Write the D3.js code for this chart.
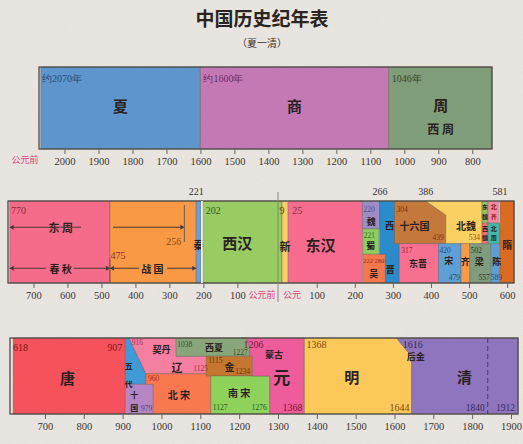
<!DOCTYPE html>
<html><head><meta charset="utf-8">
<script src="https://cdn.jsdelivr.net/npm/d3@7"></script>
<style>body{margin:0;background:#ebe8e3}svg{display:block}</style>
</head><body><svg id="c" width="523" height="444"></svg>
<script>
// ---------- data ----------
const titleText = "中国历史纪年表";
const subtitleText = "（夏一清）";
// [name, start year, end year]  (BC years negative)
const row1Dynasties = [["夏",-2070,-1600],["商",-1600,-1046],["周",-1046,-742]];
const row1Ticks = [-2000,-1900,-1800,-1700,-1600,-1500,-1400,-1300,-1200,-1100,-1000,-900,-800];
const row2Dynasties = [["春秋",-770,-475],["战国",-475,-221],["秦",-221,-207],["西汉",-202,9],["新",9,25],
  ["东汉",25,220],["魏",220,266],["蜀",221,263],["西晋",265,317],["吴",222,280],["十六国",304,439],
  ["北魏",386,534],["东晋",317,420],["宋",420,479],["齐",479,502],["梁",502,557],["陈",557,589],
  ["东魏",534,550],["西魏",535,557],["北齐",550,577],["北周",557,581],["隋",581,618]];
const row2Ticks = [-700,-600,-500,-400,-300,-200,-100,100,200,300,400,500,600];
const row3Dynasties = [["唐",618,907],["五代",907,960],["十国",907,979],["辽",916,1125],["北宋",960,1127],
  ["西夏",1038,1227],["金",1115,1234],["南宋",1127,1279],["元",1206,1368],["明",1368,1644],["清",1616,1912]];
const row3Ticks = [700,800,900,1000,1100,1200,1300,1400,1500,1600,1700,1800,1900];

// ---------- layout ----------
const svg = d3.select("#c");
const defs = svg.append("defs");
const f = defs.append("filter").attr("id","paper");
f.append("feTurbulence").attr("type","fractalNoise").attr("baseFrequency",0.9).attr("numOctaves",2).attr("seed",3);
f.append("feColorMatrix").attr("values","0 0 0 0 0.55  0 0 0 0 0.52  0 0 0 0 0.48  0 0 0 0.18 0");
svg.append("rect").attr("width",523).attr("height",444).attr("fill","#ebe8e3");
svg.append("rect").attr("width",523).attr("height",444).attr("filter","url(#paper)");

const CJK = "'Noto Sans CJK SC','Noto Sans CJK TC',sans-serif";
const SERIF = "'Liberation Serif','DejaVu Serif',serif";
svg.append("text").attr("x",262).attr("y",26).attr("text-anchor","middle").attr("font-family",CJK)
  .attr("font-weight",700).attr("font-size",19).attr("fill","#2a2522").text(titleText);
svg.append("text").attr("x",262).attr("y",47).attr("text-anchor","middle").attr("font-family",CJK)
  .attr("font-size",10).attr("fill","#3a3431").text(subtitleText);

const colors = {"夏":"#5d95cc","商":"#c579b4","周":"#7f9d78",
 "春秋":"#f56b8a","战国":"#f99845","秦":"#6b9fd3","西汉":"#98cb62","新":"#fbd062","东汉":"#f76c8e",
 "魏":"#9d8cc4","蜀":"#8fcd62","吴":"#f5784c","西晋":"#2a8ccb","十六国":"#c5783c","北魏":"#fbd063",
 "东晋":"#f7708f","宋":"#5ea0d5","齐":"#f99a46","梁":"#7f9d7c","陈":"#5e9fd3","东魏":"#8fc35e",
 "西魏":"#f07070","北齐":"#f48aa8","北周":"#40b9ad","隋":"#d96c22",
 "唐":"#f6525c","五代":"#3f9ad6","十国":"#b486c4","辽":"#f47fa0","北宋":"#f9784f","西夏":"#88a67a",
 "金":"#c6772f","南宋":"#8ed15b","元":"#ee5c9b","明":"#fcc85a","清":"#8f75bd"};

function panel(cfg){
  const g = svg.append("g");
  const x = d3.scaleLinear().domain(cfg.domain).range(cfg.range);
  const y = d3.scaleLinear().domain([0,1]).range([cfg.top,cfg.bottom]);
  const line = d3.line().x(d=>x(d[0])).y(d=>y(d[1]));
  for(const d of cfg.data){
    const s=d[1], e=d[2];
    const shp = cfg.shapes[d[0]] ? cfg.shapes[d[0]](s,e) : [[s,0],[e,0],[e,1],[s,1]];
    g.append("path").attr("d",line(shp)+"Z").attr("fill",colors[d[0]])
      .attr("stroke","#5b5550").attr("stroke-width",0.6).attr("stroke-opacity",0.6);
  }
  g.append("rect").attr("x",cfg.range[0]).attr("y",cfg.top).attr("width",cfg.range[cfg.range.length-1]-cfg.range[0])
   .attr("height",cfg.bottom-cfg.top).attr("fill","none").attr("stroke","#4e4a46").attr("stroke-width",1.3);
  const ax = g.append("g").attr("transform",`translate(0,${cfg.bottom})`)
    .call(d3.axisBottom(x).tickValues(cfg.ticks).tickSize(5).tickPadding(4).tickFormat(v=>Math.abs(v)));
  ax.select(".domain").remove();
  ax.selectAll("line").attr("stroke","#6a6460");
  ax.selectAll("text").attr("font-family",SERIF).attr("font-size",10.5).attr("fill","#3a3533");
  for(const l of cfg.labels){
    g.append("text").attr("x",x(l[1])+(l[4]||0)).attr("y",y(l[2])).attr("font-family",l[5]||CJK)
     .attr("font-size",l[3]).attr("font-weight",(l[5]===SERIF)?400:700).attr("text-anchor",l[6]||"middle")
     .attr("dominant-baseline","central").attr("fill",l[7]||"#2b2120").text(l[0]);
  }
  return {g,x,y};
}

const YR = (t,yr,fy,col,anchor,dx)=>[t,yr,fy,10,dx||0,SERIF,anchor||"start",col||"#6b2a2a"];
const YS = (t,yr,fy,col,anchor,dx)=>[t,yr,fy,7.5,dx||0,SERIF,anchor||"start",col||"#6b2a2a"];

// ---- panel 1 ----
panel({domain:[-2075,-742],range:[39,492],top:67,bottom:149,data:row1Dynasties,ticks:row1Ticks,shapes:{},
  labels:[YR("约2070年",-2075,0.14,"#2d4a78","start",3),YR("约1600年",-1600,0.14,"#6a2f5e","start",3),
   YR("1046年",-1046,0.14,"#34452f","start",3),
   ["夏",-1835,0.47,15],["商",-1323,0.47,15],["周",-893,0.46,15],["西  周",-893,0.75,12]]});
svg.append("text").attr("x",25).attr("y",163).attr("text-anchor","middle").attr("font-family",CJK)
 .attr("font-size",9).attr("fill","#e0407a").text("公元前");

// ---- panel 2 ----
const bot = (s,e)=>[[s,0.52],[e,0.52],[e,1],[s,1]];
const sh2 = {
 "魏":(s,e)=>[[s,0],[e,0],[e,0.34],[s,0.34]],
 "蜀":(s,e)=>[[s,0.34],[e,0.34],[e,0.65],[s,0.65]],
 "吴":(s,e)=>[[s,0.65],[e,0.65],[e,1],[s,1]],
 "十六国":(s,e)=>[[s,0],[386,0],[e,0.17],[e,0.52],[s,0.52]],
 "北魏":(s,e)=>[[s,0],[e,0],[e,0.52],[439,0.52],[439,0.17]],
 "东晋":bot,"宋":bot,"齐":bot,"梁":bot,"陈":bot,
 "东魏":(s,e)=>[[s,0],[e,0],[e,0.27],[s,0.27]],
 "西魏":(s,e)=>[[534,0.27],[550,0.27],[550,0.52],[534,0.52]],
 "北齐":(s,e)=>[[s,0],[e,0],[e,0.27],[s,0.27]],
 "北周":(s,e)=>[[550,0.27],[581,0.27],[581,0.52],[550,0.52]]
};
const p2 = panel({domain:[-775,-1,1,618],range:[8,271,279,514],top:201,bottom:283,data:row2Dynasties,ticks:row2Ticks,shapes:sh2,
 labels:[YR("770",-775,0.12,"#8c2b3a","start",3),["东  周",-620,0.32,11],["春 秋",-620,0.82,10],["战 国",-350,0.82,10],
  YR("256",-256,0.49,"#8a4a1a","end",-3),YR("475",-475,0.66,"#8c2b3a","middle",8),
  ["秦",-214,0.53,10],YR("221",-221,-0.12,"#333","middle"),
  YR("202",-202,0.12,"#2f5a1e","start",3),["西汉",-100,0.5,15],
  YR("9",9,0.12,"#5a4a10","middle",0),["新",17,0.55,11],
  YR("25",25,0.12,"#8c2b3a","start",4),["东汉",110,0.53,15],
  YS("220",220,0.1,"#5b4a8a","start",1),["魏",243,0.25,9],YS("221",221,0.42,"#3f6a20","start",1),["蜀",242,0.54,9],
  ["222 280",222,0.72,6.5,0,SERIF,"start","#8a2b1a"],["吴",250,0.88,9],
  YR("266",266,-0.12,"#333","middle"),["西",291,0.3,9],["晋",293,0.84,9],
  YR("386",386,-0.12,"#333","middle"),YR("581",581,-0.12,"#333","middle"),
  YS("304",304,0.1,"#6a3a1a","start",2),["十六国",357,0.3,10],YS("439",439,0.44,"#6a3a1a","end",-2),
  ["北魏",492,0.3,10],YS("534",534,0.44,"#7a5a10","end",-2),
  YS("317",317,0.6,"#8c2b3a","start",2),["东晋",366,0.76,9],
  YS("420",420,0.6,"#2a4a7a","start",1),["宋",447,0.72,9],YS("479",479,0.93,"#2a4a7a","end",-1),
  ["齐",490,0.74,9],YS("502",502,0.6,"#2a3a2a","start",1),["梁",527,0.74,9],YS("557",557,0.93,"#2a3a2a","end",-1),
  ["陈",573,0.74,9],YS("589",589,0.93,"#2a4a7a","end",-1),
  ["东",542,0.07,6],["魏",542,0.19,6],["西",542,0.33,6],["魏",542,0.45,6],
  ["北",565,0.07,6,0,CJK,"middle","#8a1a1a"],["齐",565,0.19,6,0,CJK,"middle","#8a1a1a"],["北",565,0.33,6],["周",565,0.45,6],
  ["隋",600,0.53,10]]});
p2.g.append("line").attr("x1",p2.x(0)+3).attr("x2",p2.x(0)+3).attr("y1",192).attr("y2",302).attr("stroke","#8a8480").attr("stroke-width",1);
svg.append("text").attr("x",262).attr("y",298).attr("text-anchor","middle").attr("font-family",CJK).attr("font-size",9).attr("fill","#e0407a").text("公元前");
svg.append("text").attr("x",292).attr("y",298).attr("text-anchor","middle").attr("font-family",CJK).attr("font-size",9).attr("fill","#e0407a").text("公元");
function arrow(a,b,fy,gap){
  const y=p2.y(fy), xa=p2.x(a), xb=p2.x(b), m=(xa+xb)/2;
  for(const [u,v,d] of [[xa,m-gap,1],[xb,m+gap,-1]]){
    p2.g.append("line").attr("x1",u).attr("x2",v).attr("y1",y).attr("y2",y).attr("stroke","#4a3a36").attr("stroke-width",1);
    p2.g.append("path").attr("d",`M${u},${y}l${4*d},-2.5v5z`).attr("fill","#4a3a36");
  }
}
arrow(-770,-256,0.32,16); arrow(-770,-475,0.82,14); arrow(-475,-221,0.82,14);
p2.g.append("line").attr("x1",p2.x(-256)).attr("x2",p2.x(-256)).attr("y1",p2.y(0.05)).attr("y2",p2.y(0.5)).attr("stroke","#6a5a50");
p2.g.append("line").attr("x1",p2.x(-475)).attr("x2",p2.x(-475)).attr("y1",p2.y(0.7)).attr("y2",p2.y(1)).attr("stroke","#6a5a50");
p2.g.append("rect").attr("x",p2.x(-207)).attr("y",201).attr("width",p2.x(-202)-p2.x(-207)).attr("height",82).attr("fill","#f4f2ee");

// ---- panel 3 ----
const sh3 = {
 "五代":(s,e)=>[[s,0],[925,0],[e,0.47],[e,0.61],[s,0.61]],
 "十国":(s,e)=>[[s,0.61],[e,0.61],[e,1],[s,1]],
 "辽":(s,e)=>[[s,0],[1038,0],[1038,0.24],[e,0.24],[e,0.47],[960,0.47]],
 "北宋":(s,e)=>[[s,0.47],[e,0.47],[e,1],[979,1],[979,0.61],[s,0.61]],
 "西夏":(s,e)=>[[s,0],[1218,0],[e,0.12],[e,0.24],[s,0.24]],
 "金":(s,e)=>[[s,0.24],[e,0.24],[e,0.5],[s,0.5]],
 "南宋":(s,e)=>[[s,0.5],[e,0.5],[e,1],[s,1]],
 "元":(s,e)=>[[s,0],[e,0],[e,1],[1279,1],[1279,0.5],[1234,0.5],[1234,0.24],[1227,0.24],[1227,0.12],[1218,0]],
 "明":(s,e)=>[[s,0],[1605,0],[e,0.24],[e,1],[s,1]],
 "清":(s,e)=>[[1605,0],[1918,0],[1918,1],[1644,1],[1644,0.24]]
};
const p3 = panel({domain:[610,1918],range:[10,518],top:338,bottom:414,data:row3Dynasties,ticks:row3Ticks,shapes:sh3,
 labels:[YR("618",618,0.12,"#7a1a1a","start",0),YR("907",907,0.12,"#7a1a1a","end",-3),["唐",758,0.52,15],
  ["五",916,0.36,8],["代",916,0.6,8],["十",930,0.74,8],["国",930,0.92,8],YS("979",979,0.93,"#5a3a7a","end",-1),
  ["契丹",1000,0.15,9],["辽",1040,0.38,11],YS("916",916,0.06,"#9a3050","start",3),
  YS("1125",1125,0.4,"#9a3050","end",-2),YS("960",960,0.53,"#9a3030","start",2),
  ["北  宋",1045,0.74,10],
  YS("1038",1038,0.08,"#3a4a30","start",1),["西夏",1135,0.12,9],YS("1227",1227,0.19,"#3a4a30","end",-2),
  YS("1115",1115,0.3,"#5a3a10","start",2),["金",1175,0.37,10],YS("1234",1234,0.44,"#5a3a10","end",-2),
  ["南  宋",1200,0.72,10],YS("1127",1127,0.92,"#2a5a1a","start",2),YS("1276",1276,0.92,"#2a5a1a","end",-2),
  YR("1206",1206,0.08,"#7a1a3a","start",2),["蒙古",1290,0.22,9],["元",1310,0.5,17],YR("1368",1368,0.92,"#7a1a3a","end",-2),
  YR("1368",1368,0.08,"#7a4a10","start",2),["明",1490,0.5,15],YR("1644",1644,0.92,"#7a4a10","end",-2),
  YR("1616",1616,0.08,"#3a2a5a","start",2),["后金",1655,0.24,9],["清",1780,0.5,15],
  [ "1840",1840,0.92,9.5,-3,SERIF,"end","#3a2a5a"],["1912",1918,0.92,9.5,-3,SERIF,"end","#3a2a5a"]]});
p3.g.append("line").attr("x1",p3.x(1840)).attr("x2",p3.x(1840)).attr("y1",338).attr("y2",414)
 .attr("stroke","#4a3a6a").attr("stroke-dasharray","5,3");
</script></body></html>
